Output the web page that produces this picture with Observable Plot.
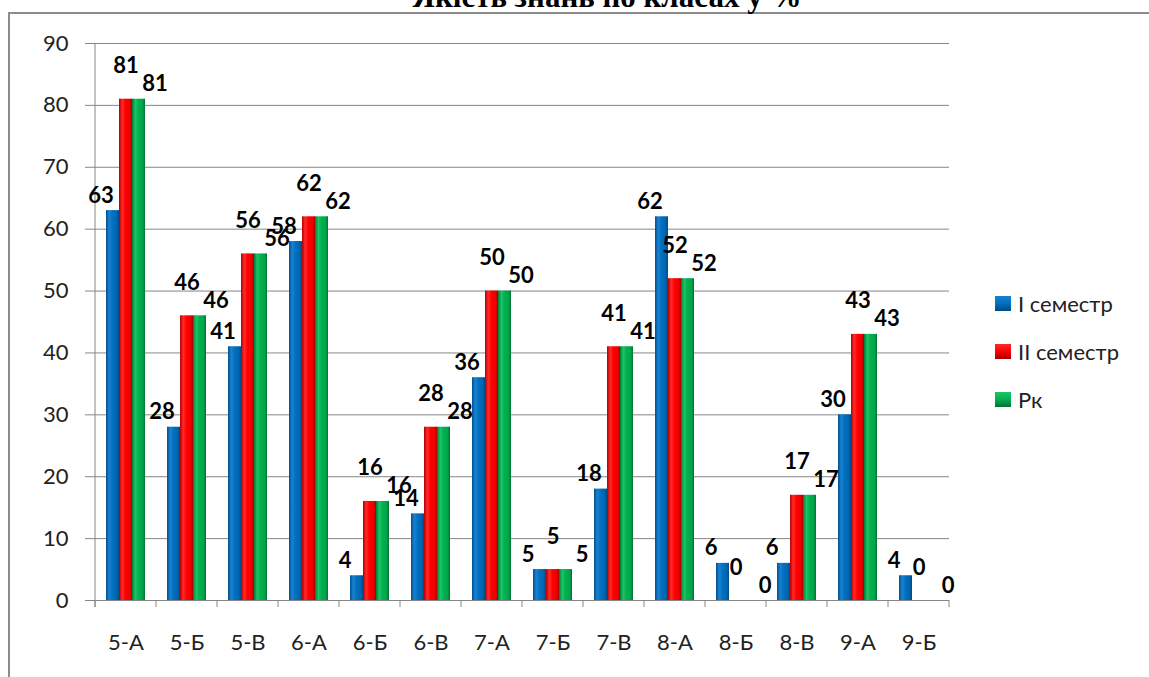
<!DOCTYPE html>
<html>
<head>
<meta charset="utf-8">
<script src="https://cdn.jsdelivr.net/npm/d3@7"></script>
<script src="https://cdn.jsdelivr.net/npm/@observablehq/plot@0.6"></script>
<style>
  body { margin: 0; background: #fff; }
  #wrap { position: relative; width: 1149px; height: 677px; overflow: hidden; background: #fff; }
  #border { position: absolute; left: 8px; top: 12px; width: 1400px; height: 900px; border: 2px solid #8c8c8c; box-sizing: border-box; }
  #chart { position: absolute; left: 0; top: 0; }
  #legend { position: absolute; left: 995px; top: 290px; font-family: Lato, "Open Sans", sans-serif; font-size: 22px; color: #222; }
  .item { display: flex; align-items: center; height: 26px; margin-bottom: 22px; }
  .sw { width: 16px; height: 15px; margin-right: 7px; }
</style>
</head>
<body>
<div id="wrap">
  <div id="border"></div>
  <div id="chart"></div>
  <div id="legend"></div>
</div>
<script>
const title = "Якість знань по класах у %";
const classes = ["5-А","5-Б","5-В","6-А","6-Б","6-В","7-А","7-Б","7-В","8-А","8-Б","8-В","9-А","9-Б"];
const seriesNames = ["I семестр", "II семестр", "Рк"];
const sem1 = [63, 28, 41, 58, 4, 14, 36, 5, 18, 62, 6, 6, 30, 4];
const sem2 = [81, 46, 56, 62, 16, 28, 50, 5, 41, 52, 0, 17, 43, 0];
const rk   = [81, 46, 56, 62, 16, 28, 50, 5, 41, 52, 0, 17, 43, 0];
const yTicks = [0, 10, 20, 30, 40, 50, 60, 70, 80, 90];

const seriesValues = [sem1, sem2, rk];
const rows = [];
classes.forEach((c, i) => {
  seriesNames.forEach((s, j) => rows.push({cls: c, series: s, value: seriesValues[j][i]}));
});

const gradIds = ["gBlue", "gRed", "gGreen"];
const gradStops = [
  ["#004f8e", "#1a82d0", "#0070c0", "#0066b0", "#004a85"],
  ["#b00000", "#ff2a2a", "#ff0000", "#f00000", "#a80000"],
  ["#007a36", "#1ec466", "#00b050", "#00a64b", "#007232"]
];
// label offsets (style only) per series, to mimic the staggered data labels
const labelDx = [-12, 0, 16];
const labelDy = [-2, -20, -2];
const gridColor = "#868686";

const boundaryTicks = (index, scales, values, dims) => {
  const g = d3.create("svg:g").attr("stroke", gridColor).attr("stroke-width", 1);
  const x0 = dims.marginLeft, x1 = dims.width - dims.marginRight;
  const yb = dims.height - dims.marginBottom;
  const c = classes[index[0]];
  g.append("line").attr("x1", x0).attr("x2", x0).attr("y1", yb).attr("y2", yb + 7);
  if (c === classes[classes.length - 1]) {
    g.append("line").attr("x1", x1).attr("x2", x1).attr("y1", yb).attr("y2", yb + 7);
  }
  if (c === classes[0]) {
    g.append("line").attr("x1", x0).attr("x2", x0).attr("y1", scales.y(yTicks[yTicks.length - 1])).attr("y2", yb + 7);
  }
  return g.node();
};

const labelMarks = seriesNames.map((s, k) =>
  Plot.text(rows.filter(r => r.series === s), {
    fx: "cls", x: "series", y: "value", text: d => String(d.value),
    dx: labelDx[k], dy: -6 + labelDy[k], lineAnchor: "bottom",
    fontWeight: "bold", fontSize: 22, fill: "#000"
  })
);

const chart = Plot.plot({
  width: 1149,
  height: 677,
  marginLeft: 90,
  marginRight: 196,
  marginTop: 43,
  marginBottom: 77,
  style: {fontFamily: "Lato, 'Open Sans', sans-serif", fontSize: "22px", background: "transparent", overflow: "visible"},
  fx: {domain: classes, padding: 0},
  x: {domain: seriesNames, paddingInner: 0, paddingOuter: 0.75, axis: null},
  y: {domain: [0, 90]},
  color: {domain: seriesNames, range: gradIds.map(id => `url(#${id})`)},
  marks: [
    Plot.ruleY(yTicks, {stroke: gridColor, strokeWidth: 1}),
    Plot.axisY({ticks: yTicks, tickSize: 10, tickPadding: 17, stroke: gridColor, fill: "#222", fontSize: 22, label: null}),
    Plot.axisFx({anchor: "bottom", tickSize: 0, tickPadding: 34, fontSize: 22, fill: "#222", label: null}),
    Plot.ruleY(classes, {fx: d => d, y: () => 0, render: boundaryTicks}),
    Plot.barY(rows, {fx: "cls", x: "series", y: "value", fill: "series"}),
    ...labelMarks
  ]
});

const svg = d3.select(chart);
const defs = svg.insert("defs", ":first-child");
gradIds.forEach((id, k) => {
  const lg = defs.append("linearGradient").attr("id", id).attr("x1", "0").attr("x2", "1").attr("y1", "0").attr("y2", "0");
  const offs = [0, 0.25, 0.5, 0.8, 1];
  gradStops[k].forEach((col, i) => lg.append("stop").attr("offset", offs[i]).attr("stop-color", col));
});
svg.append("text")
  .attr("x", 607).attr("y", 7)
  .attr("text-anchor", "middle")
  .attr("font-family", "'Liberation Serif', 'Times New Roman', serif")
  .attr("font-weight", "bold")
  .attr("font-size", 31)
  .attr("fill", "#000")
  .text(title);
document.getElementById("chart").appendChild(chart);

const legend = d3.select("#legend");
seriesNames.forEach((s, k) => {
  const it = legend.append("div").attr("class", "item");
  it.append("div").attr("class", "sw")
    .style("background", `linear-gradient(180deg, ${gradStops[k][1]}, ${gradStops[k][2]} 50%, ${gradStops[k][4]})`);
  it.append("span").text(s);
});
</script>
</body>
</html>
